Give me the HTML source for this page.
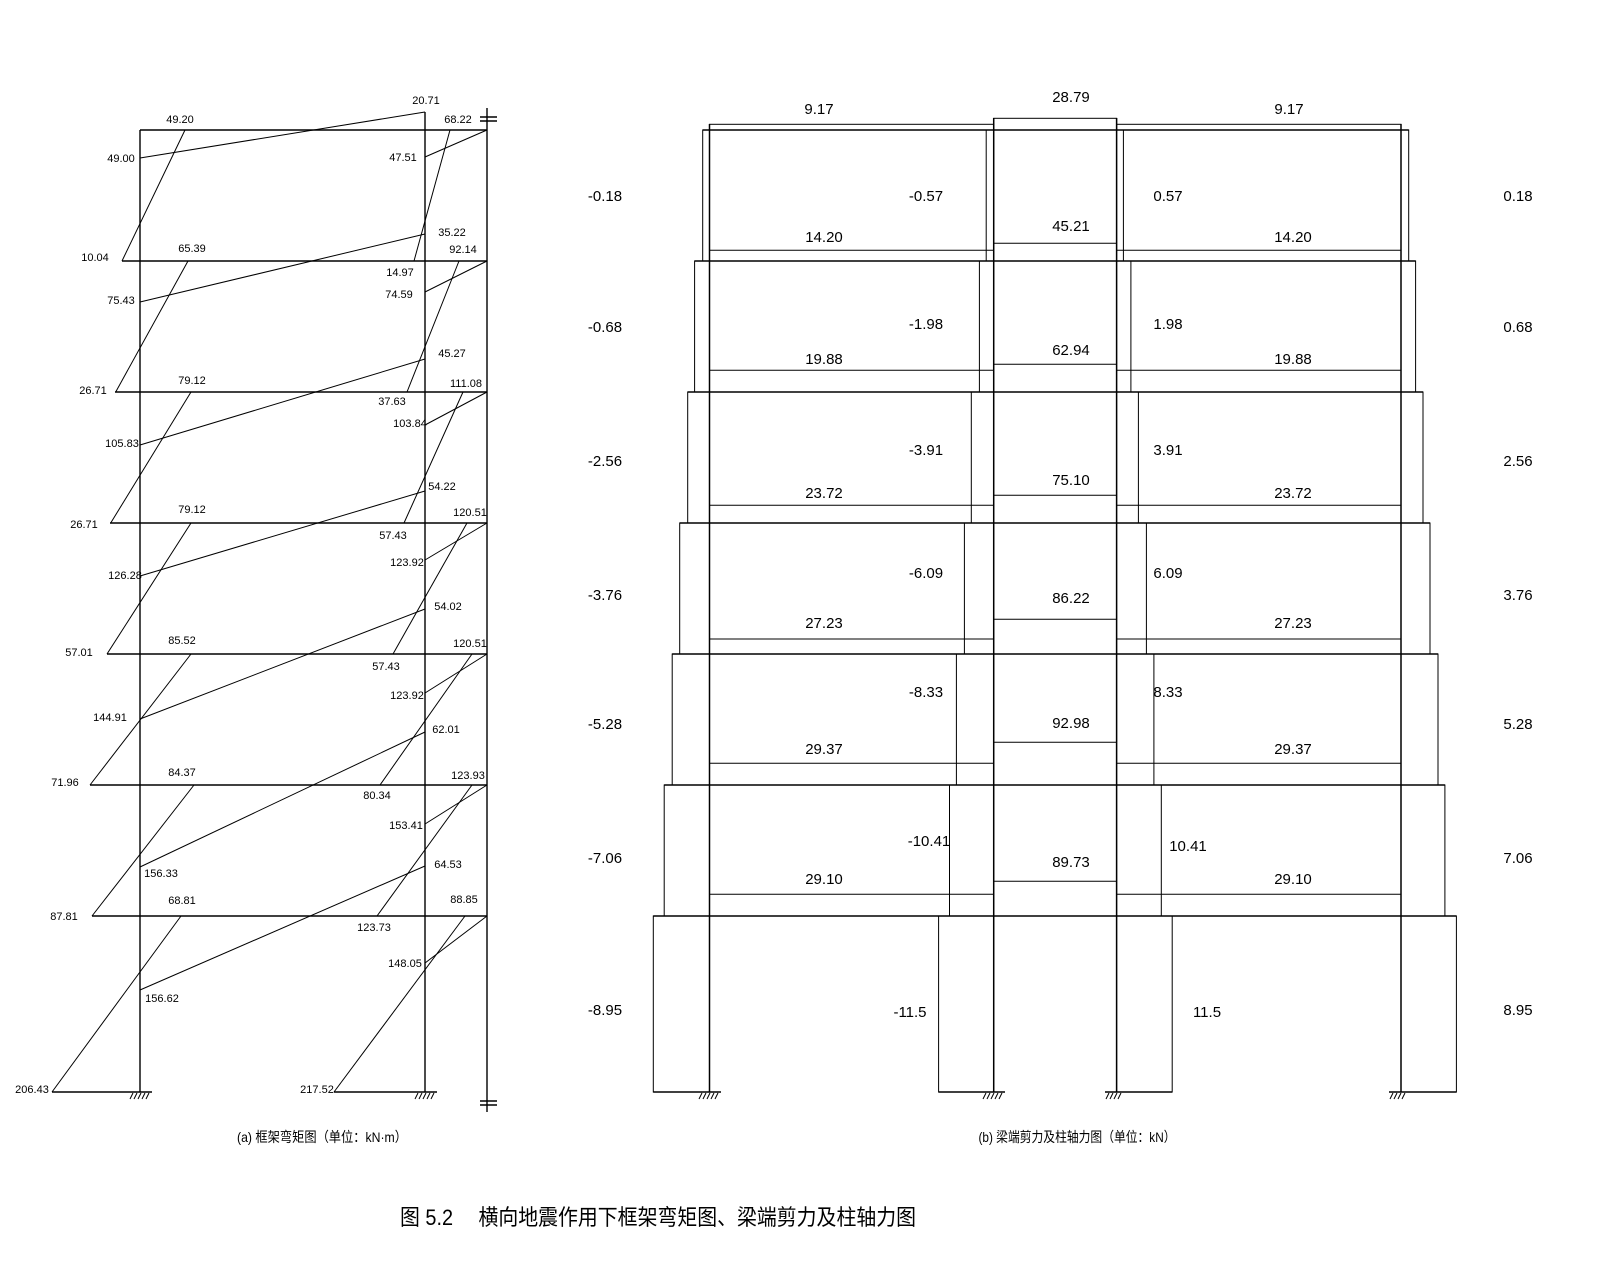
<!DOCTYPE html>
<html><head><meta charset="utf-8"><style>
html,body{margin:0;padding:0;background:#fff;}
svg{display:block;}
text{font-family:"Liberation Sans","Noto Sans CJK SC",sans-serif;fill:#000;}
.s{font-size:11px;text-anchor:middle;}
.r{font-size:15px;text-anchor:middle;}
</style></head><body>
<svg width="1600" height="1280" viewBox="0 0 1600 1280" xmlns="http://www.w3.org/2000/svg">
<g stroke="#000" fill="none">
<!-- ===== Left frame (a) ===== -->
<g stroke-width="1.4">
<line x1="140" y1="130" x2="140" y2="1092"/>
<line x1="425" y1="112" x2="425" y2="1092"/>
<line x1="487" y1="108" x2="487" y2="1112"/>
<line x1="140" y1="130" x2="487" y2="130"/>
<line x1="122" y1="261" x2="487" y2="261"/>
<line x1="115" y1="392" x2="487" y2="392"/>
<line x1="110" y1="523" x2="487" y2="523"/>
<line x1="107" y1="654" x2="487" y2="654"/>
<line x1="90" y1="785" x2="487" y2="785"/>
<line x1="92" y1="916" x2="487" y2="916"/>
<line x1="52" y1="1092" x2="152" y2="1092"/>
<line x1="334" y1="1092" x2="437" y2="1092"/>
<line x1="480" y1="117" x2="497" y2="117"/>
<line x1="480" y1="121" x2="497" y2="121"/>
<line x1="480" y1="1101" x2="497" y2="1101"/>
<line x1="480" y1="1105" x2="497" y2="1105"/>
</g>
<g stroke-width="1">
<!-- story 1 -->
<line x1="185" y1="130" x2="122" y2="261"/>
<line x1="140" y1="158" x2="425" y2="112"/>
<line x1="450" y1="130" x2="414" y2="261"/>
<line x1="425" y1="157" x2="487" y2="130"/>
<!-- story 2 -->
<line x1="188" y1="261" x2="115.7" y2="392"/>
<line x1="140" y1="302" x2="425" y2="234"/>
<line x1="459" y1="261" x2="407" y2="392"/>
<line x1="425" y1="292" x2="487" y2="261"/>
<!-- story 3 -->
<line x1="191" y1="392" x2="110.7" y2="523"/>
<line x1="140" y1="445" x2="425" y2="359"/>
<line x1="463" y1="392" x2="404" y2="523"/>
<line x1="425" y1="425" x2="487" y2="392"/>
<!-- story 4 -->
<line x1="191" y1="523" x2="107" y2="654"/>
<line x1="140" y1="576" x2="425" y2="491"/>
<line x1="467" y1="523" x2="393" y2="654"/>
<line x1="425" y1="560" x2="487" y2="523"/>
<!-- story 5 -->
<line x1="191" y1="654" x2="90" y2="785"/>
<line x1="425" y1="609" x2="140" y2="719"/>
<line x1="472" y1="654" x2="380" y2="785"/>
<line x1="425" y1="693" x2="487" y2="654"/>
<!-- story 6 -->
<line x1="194" y1="785" x2="92" y2="916"/>
<line x1="425" y1="732" x2="140" y2="867"/>
<line x1="472" y1="785" x2="377" y2="916"/>
<line x1="425" y1="824" x2="487" y2="785"/>
<!-- story 7 -->
<line x1="181" y1="916" x2="52" y2="1092"/>
<line x1="425" y1="866" x2="140" y2="990"/>
<line x1="465" y1="916" x2="334" y2="1092"/>
<line x1="425" y1="963" x2="487" y2="916"/>
<!-- hatches -->
<path d="M130 1099l3-6M134 1099l3-6M138 1099l3-6M142 1099l3-6M146 1099l3-6"/>
<path d="M415 1099l3-6M419 1099l3-6M423 1099l3-6M427 1099l3-6M431 1099l3-6"/>
</g>

<!-- ===== Right frame (b) ===== -->
<g stroke-width="1">
<!-- column axial boxes -->
<rect x="702.7" y="130" width="6.8" height="131"/>
<rect x="986.2" y="130" width="7.5" height="131"/>
<rect x="1116.6" y="130" width="6.8" height="131"/>
<rect x="1401" y="130" width="7.7" height="131"/>
<rect x="694.6" y="261" width="14.9" height="131"/>
<rect x="979.4" y="261" width="14.3" height="131"/>
<rect x="1116.6" y="261" width="14.3" height="131"/>
<rect x="1401" y="261" width="14.6" height="131"/>
<rect x="687.7" y="392" width="21.8" height="131"/>
<rect x="971.3" y="392" width="22.4" height="131"/>
<rect x="1116.6" y="392" width="21.8" height="131"/>
<rect x="1401" y="392" width="22" height="131"/>
<rect x="679.7" y="523" width="29.8" height="131"/>
<rect x="964.4" y="523" width="29.3" height="131"/>
<rect x="1116.6" y="523" width="29.8" height="131"/>
<rect x="1401" y="523" width="29" height="131"/>
<rect x="672.2" y="654" width="37.3" height="131"/>
<rect x="956.4" y="654" width="37.3" height="131"/>
<rect x="1116.6" y="654" width="37.3" height="131"/>
<rect x="1401" y="654" width="37" height="131"/>
<rect x="664.2" y="785" width="45.3" height="131"/>
<rect x="949.5" y="785" width="44.2" height="131"/>
<rect x="1116.6" y="785" width="44.7" height="131"/>
<rect x="1401" y="785" width="43.9" height="131"/>
<rect x="653.3" y="916" width="56.2" height="176"/>
<rect x="938.6" y="916" width="55.1" height="176"/>
<rect x="1116.6" y="916" width="55.6" height="176"/>
<rect x="1401" y="916" width="55.4" height="176"/>
<!-- roof shear -->
<rect x="709.5" y="124.3" width="284.2" height="5.7"/>
<rect x="993.7" y="118.3" width="122.9" height="11.7"/>
<rect x="1116.6" y="124.3" width="284.4" height="5.7"/>
<!-- shear lines -->
<path d="M709.5 250.3H993.7M1116.6 250.3H1401M993.7 243.3H1116.6"/>
<path d="M709.5 370.3H993.7M1116.6 370.3H1401M993.7 364.3H1116.6"/>
<path d="M709.5 505.3H993.7M1116.6 505.3H1401M993.7 495.3H1116.6"/>
<path d="M709.5 639H993.7M1116.6 639H1401M993.7 619.3H1116.6"/>
<path d="M709.5 763.3H993.7M1116.6 763.3H1401M993.7 742.3H1116.6"/>
<path d="M709.5 894.3H993.7M1116.6 894.3H1401M993.7 881.3H1116.6"/>
<!-- hatches -->
<path d="M699 1099l3-6M703 1099l3-6M707 1099l3-6M711 1099l3-6M715 1099l3-6"/>
<path d="M983 1099l3-6M987 1099l3-6M991 1099l3-6M995 1099l3-6M999 1099l3-6"/>
<path d="M1106 1099l3-6M1110 1099l3-6M1114 1099l3-6M1118 1099l3-6"/>
<path d="M1390 1099l3-6M1394 1099l3-6M1398 1099l3-6M1402 1099l3-6"/>
</g>
<g stroke-width="1.5">
<line x1="709.5" y1="124" x2="709.5" y2="1092"/>
<line x1="993.7" y1="118" x2="993.7" y2="1092"/>
<line x1="1116.6" y1="118" x2="1116.6" y2="1092"/>
<line x1="1401" y1="124" x2="1401" y2="1092"/>
<line x1="702.7" y1="130" x2="1408.7" y2="130"/>
<line x1="694.6" y1="261" x2="1415.6" y2="261"/>
<line x1="687.7" y1="392" x2="1423" y2="392"/>
<line x1="679.7" y1="523" x2="1430" y2="523"/>
<line x1="672.2" y1="654" x2="1438" y2="654"/>
<line x1="664.2" y1="785" x2="1444.9" y2="785"/>
<line x1="653.3" y1="916" x2="1456.4" y2="916"/>
<line x1="653.3" y1="1092" x2="721" y2="1092"/>
<line x1="938.6" y1="1092" x2="1005" y2="1092"/>
<line x1="1105" y1="1092" x2="1172.2" y2="1092"/>
<line x1="1389" y1="1092" x2="1456.4" y2="1092"/>
</g>
</g>

<!-- Left labels -->
<g class="s">
<text x="180" y="123">49.20</text><text x="426" y="104">20.71</text><text x="458" y="123">68.22</text>
<text x="121" y="162">49.00</text><text x="403" y="161">47.51</text><text x="95" y="261">10.04</text>
<text x="192" y="252">65.39</text><text x="452" y="236">35.22</text><text x="463" y="253">92.14</text>
<text x="121" y="304">75.43</text><text x="400" y="276">14.97</text><text x="399" y="298">74.59</text>
<text x="93" y="394">26.71</text><text x="192" y="384">79.12</text><text x="452" y="357">45.27</text>
<text x="466" y="387">111.08</text><text x="122" y="447">105.83</text><text x="392" y="405">37.63</text>
<text x="410" y="427">103.84</text><text x="84" y="528">26.71</text><text x="192" y="513">79.12</text>
<text x="442" y="490">54.22</text><text x="470" y="516">120.51</text><text x="125" y="579">126.28</text>
<text x="393" y="539">57.43</text><text x="407" y="566">123.92</text><text x="448" y="610">54.02</text>
<text x="79" y="656">57.01</text><text x="182" y="644">85.52</text><text x="470" y="647">120.51</text>
<text x="386" y="670">57.43</text><text x="110" y="721">144.91</text><text x="407" y="699">123.92</text>
<text x="446" y="733">62.01</text><text x="65" y="786">71.96</text><text x="182" y="776">84.37</text>
<text x="468" y="779">123.93</text><text x="377" y="799">80.34</text><text x="406" y="829">153.41</text>
<text x="161" y="877">156.33</text><text x="448" y="868">64.53</text><text x="64" y="920">87.81</text>
<text x="182" y="904">68.81</text><text x="464" y="903">88.85</text><text x="374" y="931">123.73</text>
<text x="405" y="967">148.05</text><text x="162" y="1002">156.62</text><text x="32" y="1093">206.43</text>
<text x="317" y="1093">217.52</text>
</g>

<!-- Right labels -->
<g class="r">
<text x="819" y="114">9.17</text><text x="1071" y="102">28.79</text><text x="1289" y="114">9.17</text>
<text x="605" y="201">-0.18</text><text x="926" y="201">-0.57</text><text x="1168" y="201">0.57</text><text x="1518" y="201">0.18</text>
<text x="1071" y="231">45.21</text><text x="824" y="242">14.20</text><text x="1293" y="242">14.20</text>
<text x="605" y="332">-0.68</text><text x="926" y="329">-1.98</text><text x="1168" y="329">1.98</text><text x="1518" y="332">0.68</text>
<text x="1071" y="355">62.94</text><text x="824" y="364">19.88</text><text x="1293" y="364">19.88</text>
<text x="605" y="466">-2.56</text><text x="926" y="455">-3.91</text><text x="1168" y="455">3.91</text><text x="1518" y="466">2.56</text>
<text x="1071" y="485">75.10</text><text x="824" y="498">23.72</text><text x="1293" y="498">23.72</text>
<text x="605" y="600">-3.76</text><text x="926" y="578">-6.09</text><text x="1168" y="578">6.09</text><text x="1518" y="600">3.76</text>
<text x="1071" y="603">86.22</text><text x="824" y="628">27.23</text><text x="1293" y="628">27.23</text>
<text x="605" y="729">-5.28</text><text x="926" y="697">-8.33</text><text x="1168" y="697">8.33</text><text x="1518" y="729">5.28</text>
<text x="1071" y="728">92.98</text><text x="824" y="754">29.37</text><text x="1293" y="754">29.37</text>
<text x="605" y="863">-7.06</text><text x="929" y="846">-10.41</text><text x="1188" y="851">10.41</text><text x="1518" y="863">7.06</text>
<text x="1071" y="867">89.73</text><text x="824" y="884">29.10</text><text x="1293" y="884">29.10</text>
<text x="605" y="1015">-8.95</text><text x="910" y="1017">-11.5</text><text x="1207" y="1017">11.5</text><text x="1518" y="1015">8.95</text>
</g>

<text x="322" y="1142" font-size="14" text-anchor="middle" textLength="170" lengthAdjust="spacingAndGlyphs">(a) 框架弯矩图（单位：kN·m）</text>
<text x="1077" y="1142" font-size="14" text-anchor="middle" textLength="197" lengthAdjust="spacingAndGlyphs">(b) 梁端剪力及柱轴力图（单位：kN）</text>
<text x="400" y="1225" font-size="22" textLength="516" lengthAdjust="spacingAndGlyphs">图 5.2　 横向地震作用下框架弯矩图、梁端剪力及柱轴力图</text>
</svg>
</body></html>
